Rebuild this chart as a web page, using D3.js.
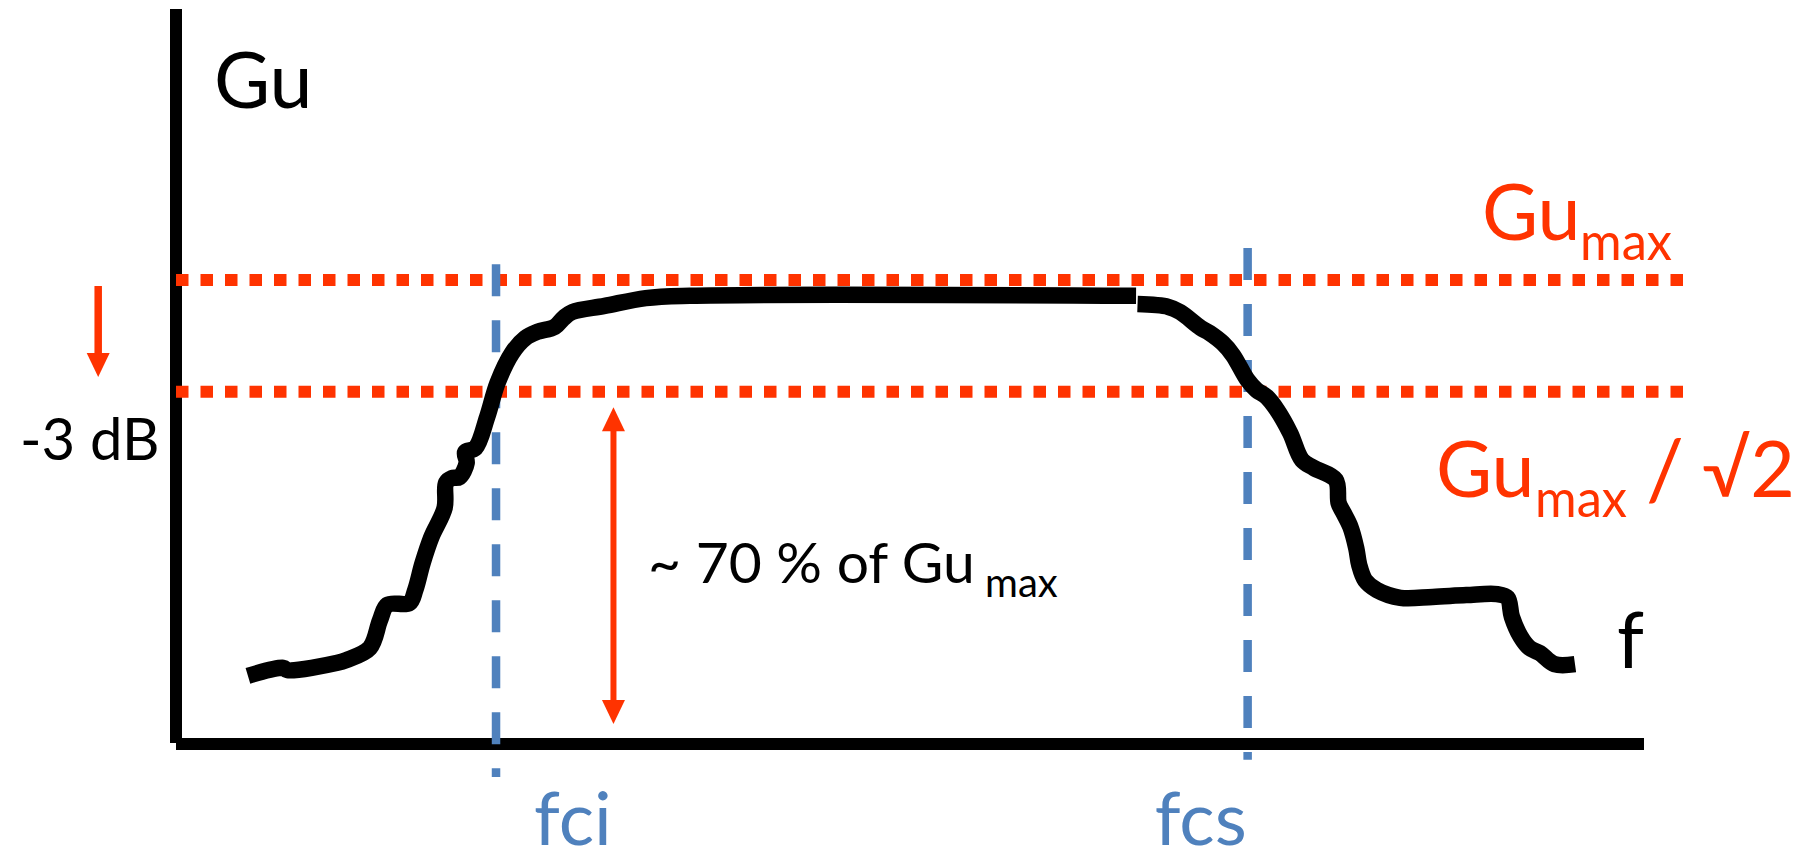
<!DOCTYPE html>
<html>
<head>
<meta charset="utf-8">
<script src="https://cdn.jsdelivr.net/npm/d3@7"></script>
<style>
	body { margin: 0; background: #fff; }
	svg { display: block; font-family: Lato, "DejaVu Sans", sans-serif; }
</style>
</head>
<body>
<svg id="chart" width="1805" height="862"></svg>
<script>
/*
	Band-pass gain sketch
	frequency on 0..100, gain relative to Gu_max = 100
*/
const riseFreq = [4.9, 7.3, 7.6, 11.0, 11.6, 13.2, 13.9, 14.4, 15.9, 16.3, 16.8, 17.4, 18.3, 18.4, 18.8, 19.3, 19.8, 19.7, 20.4, 21.2, 21.9, 22.9, 23.8, 24.6, 25.8, 26.4, 27.0, 29.2, 32.0, 35.0, 65.4];
const riseGain = [14.7, 16.4, 15.9, 17.5, 18.1, 20.7, 26.7, 30.0, 30.4, 33.2, 39.0, 44.6, 50.9, 56.3, 57.3, 57.5, 60.6, 62.9, 63.8, 70.5, 77.8, 84.3, 87.5, 88.8, 89.9, 91.8, 93.1, 94.4, 96.1, 96.6, 96.6];
const fallFreq = [65.5, 67.6, 68.4, 69.8, 70.4, 71.3, 72.0, 73.0, 73.6, 74.3, 75.0, 75.9, 76.7, 77.5, 79.0, 79.2, 79.5, 80.0, 80.4, 80.6, 81.0, 81.8, 83.4, 85.6, 87.9, 90.0, 90.7, 91.0, 91.6, 92.2, 92.9, 93.9, 95.3];
const fallGain = [94.8, 94.2, 93.1, 89.7, 88.6, 86.4, 83.8, 78.4, 76.3, 74.8, 72.0, 67.0, 61.2, 59.5, 56.9, 51.9, 50.0, 46.8, 42.2, 38.6, 35.3, 33.2, 31.5, 31.7, 32.1, 32.3, 31.5, 27.4, 23.1, 20.7, 19.6, 17.2, 17.2];

const levelGain = [100, 75.9];			// Gu_max and Gu_max / sqrt2 as drawn
const cutoffFreq = [21.8, 73.0];
const cutoffLabels = ["fci", "fcs"];

const red = "#ff3300", blue = "#4f81bd";
const svg = d3.select("#chart");

const xScale = d3.scaleLinear().domain([0, 100]).range([176, 1644]);
const yScale = d3.scaleLinear().domain([0, 158.4]).range([744, 9]);

//axes without ticks
svg.append("g").attr("class", "xAxis")
	.attr("transform", "translate(0,744)")
	.call(d3.axisBottom(xScale).tickValues([]).tickSizeOuter(0).offset(0));
svg.append("g").attr("class", "yAxis")
	.attr("transform", "translate(176,0)")
	.call(d3.axisLeft(yScale).tickValues([]).tickSizeOuter(0).offset(0));
svg.selectAll(".xAxis .domain, .yAxis .domain")
	.attr("stroke", "#000").attr("stroke-width", 12);
svg.select(".yAxis .domain").attr("d", "M0," + (yScale(0) - 1) + "V" + yScale(158.4));

//level lines
svg.selectAll(".level").data(levelGain).enter().append("line")
	.attr("class", "level")
	.attr("x1", xScale(0)).attr("x2", xScale(102.8))
	.attr("y1", d => yScale(d)).attr("y2", d => yScale(d))
	.attr("stroke", red).attr("stroke-width", 12)
	.attr("stroke-dasharray", "12.5,12");

//cutoff lines
const cutTop = [103.4, 106.9], cutBottom = [-7.1, -3.4];
svg.selectAll(".cutoff").data(cutoffFreq).enter().append("line")
	.attr("class", "cutoff")
	.attr("x1", d => xScale(d)).attr("x2", d => xScale(d))
	.attr("y1", (d, i) => yScale(cutTop[i])).attr("y2", (d, i) => yScale(cutBottom[i]))
	.attr("stroke", blue).attr("stroke-width", 8.5)
	.attr("stroke-dasharray", "32,24");

//gain curve, two pieces
const line = d3.line()
	.x(d => xScale(d[0]))
	.y(d => yScale(d[1]))
	.curve(d3.curveCatmullRom.alpha(0.5));
svg.selectAll(".curve").data([d3.zip(riseFreq, riseGain), d3.zip(fallFreq, fallGain)])
	.enter().append("path")
	.attr("class", "curve")
	.attr("d", line)
	.attr("fill", "none").attr("stroke", "#000").attr("stroke-width", 16.5)
	.attr("stroke-linejoin", "round").attr("stroke-linecap", "butt");

//arrows
function arrow(xv, from, to, both, width) {
	const ax = xScale(xv), y0 = yScale(from), y1 = yScale(to);
	const head = 24, half = 11.5;
	svg.append("line")
		.attr("x1", ax).attr("x2", ax)
		.attr("y1", both ? y0 + head - 2 : y0).attr("y2", y1 - head + 2)
		.attr("stroke", red).attr("stroke-width", width);
	svg.append("path")
		.attr("d", "M" + ax + "," + y1 + "L" + (ax - half) + "," + (y1 - head) + "L" + (ax + half) + "," + (y1 - head) + "Z")
		.attr("fill", red);
	if (both) {
		svg.append("path")
			.attr("d", "M" + ax + "," + y0 + "L" + (ax - half) + "," + (y0 + head) + "L" + (ax + half) + "," + (y0 + head) + "Z")
			.attr("fill", red);
	}
}
arrow(-5.3, 98.7, 79.1, false, 7.5);
arrow(29.8, 72.6, 4.3, true, 6);

//labels
svg.append("text").attr("x", 214).attr("y", 108)
	.attr("font-size", 77).text("Gu");
svg.append("text").attr("x", 1617).attr("y", 668)
	.attr("font-size", 77).text("f");
svg.append("text").attr("x", 20).attr("y", 460)
	.attr("font-size", 58).text("-3 dB");

svg.selectAll(".cutLabel").data(cutoffLabels).enter().append("text")
	.attr("class", "cutLabel")
	.attr("x", (d, i) => xScale(cutoffFreq[i]) - [-38, 93][i])
	.attr("y", 845)
	.attr("fill", blue).attr("font-size", 74)
	.text(d => d);

const pct = svg.append("text").attr("x", 648).attr("y", 583).attr("font-size", 57);
pct.append("tspan").text("~ 70 % of Gu");
pct.append("tspan").attr("x", 985).attr("y", 597).attr("font-size", 40).text("max");

const maxLabel = svg.append("text").attr("fill", red).attr("font-size", 77);
maxLabel.append("tspan").attr("x", 1482).attr("y", 240).text("Gu");
maxLabel.append("tspan").attr("x", 1580).attr("y", 260).attr("font-size", 53)
	.attr("textLength", 92).attr("lengthAdjust", "spacingAndGlyphs").text("max");

const halfLabel = svg.append("text").attr("fill", red).attr("font-size", 77);
halfLabel.append("tspan").attr("x", 1436).attr("y", 497).text("Gu");
halfLabel.append("tspan").attr("x", 1535).attr("y", 517).attr("font-size", 53)
	.attr("textLength", 92).attr("lengthAdjust", "spacingAndGlyphs").text("max");
halfLabel.append("tspan").attr("x", 1646).attr("y", 499).attr("font-size", 84).text("/");
halfLabel.append("tspan").attr("x", 1702).attr("y", 497).text("\u221A2");
</script>
</body>
</html>
